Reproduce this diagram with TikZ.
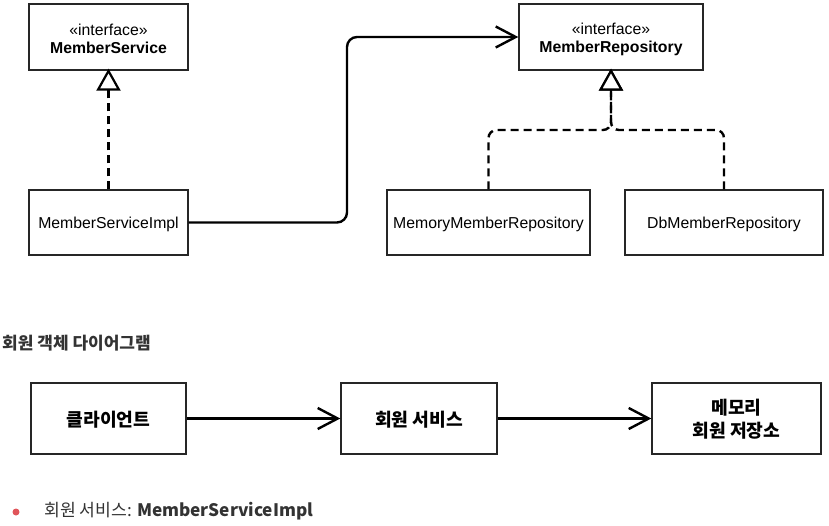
\documentclass[tikz,border=0pt]{standalone}
\usepackage{fontspec}
\setmainfont{Liberation Sans}
\newfontfamily\kr{Noto Sans CJK KR}
\usetikzlibrary{arrows.meta}
\definecolor{txtgray}{HTML}{333333}
\definecolor{bulletred}{HTML}{E0555A}
\tikzset{
  umlbox/.style={draw=black!85, line width=1.4pt, inner sep=0pt},
  umltext/.style={inner sep=0pt, align=center, font=\fontsize{15.8}{18}\selectfont},
  krbox/.style={draw=black!85, line width=1.4pt, inner sep=0pt, minimum height=71pt},
  krtext/.style={inner sep=0pt, align=center, font=\kr\bfseries\fontsize{18.2}{23.5}\selectfont},
  realize/.style={line width=2.4pt, dash pattern=on 8pt off 5pt, -{Triangle[open, length=22pt, width=24pt, line width=2.2pt, fill=white]}},
  assoc/.style={line width=2.4pt, -{Straight Barb[length=20pt, width=21pt, line width=2.4pt]}},
}
\begin{document}
\begin{tikzpicture}[x=1pt, y=-1pt]
\useasboundingbox (0,0) rectangle (829,526);
% top UML boxes
\node[umlbox, minimum width=159pt, minimum height=66pt] (ms) at (108.5,37) {};
\node[umlbox, minimum width=159pt, minimum height=65pt] (impl) at (108.5,222.5) {};
\node[umlbox, minimum width=184pt, minimum height=66pt] (rep) at (611,37) {};
\node[umlbox, minimum width=203pt, minimum height=65pt] (mem) at (488.5,222.5) {};
\node[umlbox, minimum width=198pt, minimum height=65pt] (db) at (724,222.5) {};
% texts
\node[umltext] (mst) at (108.5,39) {«interface»\\\textbf{MemberService}};
\node[umltext] (implt) at (108.5,224) {MemberServiceImpl};
\node[umltext] (rept) at (611,39) {«interface»\\\textbf{MemberRepository}};
\node[umltext] (memt) at (488.5,224) {MemoryMemberRepository};
\node[umltext] (dbt) at (724,224) {DbMemberRepository};
\coordinate (join) at (611,130);
\coordinate (turn) at (347,130);
\draw[realize] (impl.north) -- ([yshift=2pt]ms.south);
\draw[realize, rounded corners=8pt] (mem.north) |- (join) -- ([yshift=2pt]rep.south);
\draw[realize, rounded corners=8pt] (db.north) |- (join) -- ([yshift=2pt]rep.south);
\draw[assoc, rounded corners=10pt] (impl.east) -| (turn) |- (rep.west);
% bottom
\node[anchor=west, inner sep=0pt, text=txtgray, font=\kr\bfseries\fontsize{17}{20}\selectfont] (title) at (2,343) {회원 객체 다이어그램};
\node[krbox, minimum width=155pt] (client) at (108.5,418.5) {};
\node[krbox, minimum width=156pt] (svc) at (419,418.5) {};
\node[krbox, minimum width=169pt] (store) at (736.5,418.5) {};
\node[krtext] (clientt) at (108.5,420) {클라이언트};
\node[krtext] (svct) at (419,420) {회원 서비스};
\node[krtext] (storet) at (736.5,419) {메모리\\회원 저장소};
\draw[assoc] (client.east) -- (svc.west);
\draw[assoc] (svc.east) -- (store.west);
\fill[bulletred] (16,512) circle (3.5pt);
\node[anchor=west, inner sep=0pt, text=txtgray, font=\kr\fontsize{17.2}{20}\selectfont] (bullet) at (44,511) {회원 서비스: \textbf{MemberServiceImpl}};
\end{tikzpicture}
\end{document}
